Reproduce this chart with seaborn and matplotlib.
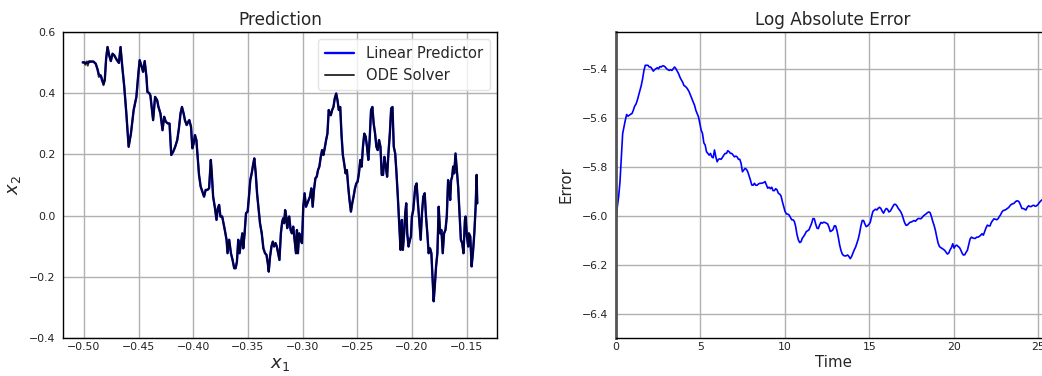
import numpy as np
import pandas as pd
import matplotlib
matplotlib.use("Agg")
import matplotlib.pyplot as plt
import seaborn as sns

# ---------------- data ----------------
ode_x1 = [-0.5012, -0.5000, -0.4988, -0.4975, -0.4966, -0.4954, -0.4939, -0.4914, -0.4893, -0.4877, -0.4865, -0.4847, -0.4834, -0.4822, -0.4810,
          -0.4798, -0.4785, -0.4770, -0.4755, -0.4739, -0.4724, -0.4699, -0.4681, -0.4666, -0.4650, -0.4632, -0.4613, -0.4592, -0.4571, -0.4546,
          -0.4521, -0.4503, -0.4491, -0.4472, -0.4460, -0.4445, -0.4429, -0.4420, -0.4405, -0.4393, -0.4380, -0.4368, -0.4356, -0.4350, -0.4331,
          -0.4319, -0.4301, -0.4282, -0.4267, -0.4252, -0.4233, -0.4218, -0.4202, -0.4184, -0.4166, -0.4147, -0.4132, -0.4117, -0.4104, -0.4089,
          -0.4077, -0.4061, -0.4046, -0.4037, -0.4021, -0.4009, -0.3997, -0.3985, -0.3972, -0.3963, -0.3948, -0.3933, -0.3917, -0.3902, -0.3887,
          -0.3871, -0.3856, -0.3840, -0.3831, -0.3819, -0.3804, -0.3788, -0.3776, -0.3764, -0.3752, -0.3736, -0.3724, -0.3712, -0.3696, -0.3687,
          -0.3672, -0.3656, -0.3641, -0.3626, -0.3613, -0.3601, -0.3589, -0.3577, -0.3564, -0.3552, -0.3543, -0.3531, -0.3518, -0.3503, -0.3491,
          -0.3479, -0.3466, -0.3451, -0.3442, -0.3429, -0.3417, -0.3405, -0.3390, -0.3374, -0.3359, -0.3344, -0.3331, -0.3319, -0.3310, -0.3298,
          -0.3285, -0.3273, -0.3261, -0.3248, -0.3236, -0.3224, -0.3212, -0.3199, -0.3187, -0.3178, -0.3169, -0.3160, -0.3150, -0.3141, -0.3132,
          -0.3123, -0.3110, -0.3098, -0.3086, -0.3074, -0.3061, -0.3052, -0.3043, -0.3031, -0.3018, -0.3006, -0.2994, -0.2982, -0.2969, -0.2957,
          -0.2945, -0.2933, -0.2920, -0.2908, -0.2896, -0.2883, -0.2871, -0.2859, -0.2847, -0.2834, -0.2822, -0.2810, -0.2798, -0.2785, -0.2773,
          -0.2761, -0.2752, -0.2742, -0.2730, -0.2718, -0.2706, -0.2693, -0.2681, -0.2669, -0.2656, -0.2644, -0.2632, -0.2620, -0.2607, -0.2595,
          -0.2583, -0.2571, -0.2558, -0.2546, -0.2534, -0.2521, -0.2509, -0.2497, -0.2485, -0.2472, -0.2460, -0.2448, -0.2436, -0.2423, -0.2411,
          -0.2399, -0.2387, -0.2374, -0.2362, -0.2350, -0.2337, -0.2325, -0.2313, -0.2301, -0.2288, -0.2276, -0.2264, -0.2252, -0.2239, -0.2227,
          -0.2215, -0.2202, -0.2190, -0.2178, -0.2166, -0.2153, -0.2141, -0.2129, -0.2117, -0.2104, -0.2098, -0.2092, -0.2083, -0.2071, -0.2061,
          -0.2052, -0.2043, -0.2031, -0.2018, -0.2009, -0.2000, -0.1988, -0.1969, -0.1957, -0.1945, -0.1933, -0.1920, -0.1908, -0.1896, -0.1883,
          -0.1871, -0.1859, -0.1847, -0.1834, -0.1822, -0.1810, -0.1801, -0.1791, -0.1779, -0.1767, -0.1755, -0.1742, -0.1730, -0.1718, -0.1706,
          -0.1693, -0.1681, -0.1669, -0.1660, -0.1650, -0.1641, -0.1632, -0.1623, -0.1613, -0.1601, -0.1589, -0.1577, -0.1564, -0.1552, -0.1540,
          -0.1528, -0.1515, -0.1509, -0.1497, -0.1485, -0.1479, -0.1466, -0.1454, -0.1442, -0.1429, -0.1417, -0.1408, -0.1402]

ode_x2 = [0.502, 0.502, 0.493, 0.504, 0.490, 0.505, 0.504, 0.504, 0.497, 0.480, 0.453, 0.459, 0.447, 0.426, 0.442,
          0.513, 0.551, 0.524, 0.505, 0.529, 0.524, 0.508, 0.499, 0.551, 0.486, 0.421, 0.334, 0.225, 0.268, 0.345,
          0.388, 0.464, 0.508, 0.486, 0.470, 0.505, 0.453, 0.404, 0.401, 0.393, 0.350, 0.312, 0.361, 0.388, 0.377,
          0.355, 0.334, 0.279, 0.323, 0.307, 0.301, 0.301, 0.198, 0.209, 0.225, 0.247, 0.285, 0.334, 0.355, 0.334,
          0.312, 0.296, 0.307, 0.312, 0.290, 0.220, 0.236, 0.263, 0.247, 0.203, 0.133, 0.095, 0.078, 0.062, 0.084,
          0.084, 0.089, 0.182, 0.138, 0.062, 0.029, -0.014, 0.024, 0.035, -0.003, -0.003, -0.025, -0.047, -0.079, -0.123,
          -0.079, -0.123, -0.145, -0.172, -0.172, -0.150, -0.079, -0.123, -0.090, -0.058, -0.107, -0.058, 0.008, 0.013, 0.062,
          0.116, 0.138, 0.171, 0.187, 0.138, 0.073, 0.029, -0.025, -0.058, -0.107, -0.123, -0.128, -0.155, -0.183, -0.134,
          -0.101, -0.085, -0.101, -0.090, -0.101, -0.123, -0.145, -0.058, -0.020, -0.009, -0.025, 0.018, -0.003, -0.041, -0.014,
          -0.003, -0.047, -0.058, -0.036, -0.079, -0.123, -0.047, -0.123, -0.058, -0.079, -0.090, 0.029, 0.073, 0.029, 0.040,
          0.051, 0.062, 0.089, 0.029, 0.084, 0.122, 0.127, 0.149, 0.160, 0.192, 0.214, 0.198, 0.220, 0.247, 0.268,
          0.345, 0.334, 0.328, 0.345, 0.355, 0.383, 0.399, 0.377, 0.345, 0.355, 0.263, 0.198, 0.171, 0.138, 0.149,
          0.095, 0.051, 0.013, 0.040, 0.062, 0.089, 0.105, 0.111, 0.138, 0.182, 0.160, 0.225, 0.268, 0.258, 0.225,
          0.182, 0.247, 0.345, 0.355, 0.301, 0.268, 0.225, 0.214, 0.247, 0.225, 0.133, 0.133, 0.192, 0.160, 0.127,
          0.203, 0.268, 0.350, 0.355, 0.225, 0.203, 0.138, 0.062, -0.025, -0.112, -0.058, -0.014, -0.112, -0.058, 0.008,
          0.040, -0.058, -0.101, -0.079, -0.068, -0.003, 0.018, 0.095, 0.105, 0.040, -0.014, -0.079, 0.008, 0.062, 0.073,
          -0.003, -0.058, -0.123, -0.107, -0.123, -0.215, -0.280, -0.232, -0.166, -0.123, 0.029, -0.058, -0.047, -0.123, -0.058,
          -0.047, -0.003, 0.116, 0.095, 0.051, 0.116, 0.127, 0.160, 0.138, 0.203, 0.149, 0.095, 0.008, -0.079, -0.090,
          -0.123, -0.014, -0.003, -0.068, -0.101, -0.058, -0.068, -0.166, -0.123, -0.058, 0.029, 0.133, 0.040]

# linear predictor: differs visibly from the ODE solver only at the very start
pred_x2_head = [0.500, 0.500, 0.499, 0.500, 0.499, 0.502, 0.503, 0.503, 0.496, 0.478, 0.462, 0.456, 0.440, 0.430, 0.445]
pred_x1 = ode_x1
pred_x2 = pred_x2_head + ode_x2[len(pred_x2_head):]

log_error = [-6.017, -5.963, -5.922, -5.861, -5.760, -5.665, -5.637, -5.610, -5.587, -5.594, -5.590, -5.586, -5.583, -5.570, -5.553,
             -5.545, -5.529, -5.509, -5.488, -5.468, -5.441, -5.407, -5.386, -5.386, -5.386, -5.393, -5.393, -5.400, -5.410, -5.404,
             -5.400, -5.396, -5.400, -5.391, -5.393, -5.388, -5.389, -5.393, -5.400, -5.404, -5.407, -5.404, -5.407, -5.400, -5.393,
             -5.400, -5.410, -5.420, -5.434, -5.445, -5.454, -5.468, -5.472, -5.477, -5.485, -5.495, -5.509, -5.522, -5.536, -5.549,
             -5.570, -5.583, -5.597, -5.624, -5.651, -5.665, -5.703, -5.712, -5.739, -5.746, -5.753, -5.746, -5.760, -5.764, -5.732,
             -5.760, -5.780, -5.770, -5.768, -5.770, -5.762, -5.753, -5.746, -5.746, -5.735, -5.739, -5.746, -5.746, -5.753, -5.760,
             -5.757, -5.760, -5.770, -5.770, -5.787, -5.821, -5.814, -5.807, -5.811, -5.821, -5.838, -5.855, -5.875, -5.876, -5.868,
             -5.876, -5.876, -5.871, -5.868, -5.868, -5.867, -5.865, -5.861, -5.875, -5.888, -5.884, -5.890, -5.884, -5.898, -5.898,
             -5.890, -5.895, -5.909, -5.912, -5.920, -5.943, -5.963, -5.983, -5.993, -5.994, -5.997, -6.007, -6.017, -6.017, -6.024,
             -6.045, -6.078, -6.099, -6.110, -6.107, -6.092, -6.085, -6.076, -6.065, -6.062, -6.058, -6.045, -6.031, -6.012, -6.013,
             -6.034, -6.051, -6.053, -6.038, -6.028, -6.031, -6.027, -6.028, -6.031, -6.034, -6.047, -6.065, -6.062, -6.058, -6.042,
             -6.042, -6.061, -6.088, -6.119, -6.142, -6.157, -6.163, -6.165, -6.164, -6.161, -6.167, -6.176, -6.167, -6.153, -6.140,
             -6.129, -6.112, -6.096, -6.072, -6.042, -6.020, -6.020, -6.034, -6.045, -6.042, -6.036, -6.028, -6.004, -5.983, -5.978,
             -5.974, -5.977, -5.970, -5.966, -5.971, -5.982, -5.990, -5.979, -5.971, -5.974, -5.985, -5.982, -5.973, -5.963, -5.954,
             -5.954, -5.960, -5.970, -5.977, -5.985, -5.997, -6.015, -6.031, -6.040, -6.038, -6.032, -6.027, -6.026, -6.023, -6.020,
             -6.023, -6.017, -6.012, -6.012, -6.013, -6.008, -6.001, -5.997, -5.993, -5.988, -5.985, -5.988, -6.004, -6.024, -6.040,
             -6.061, -6.088, -6.112, -6.126, -6.131, -6.134, -6.138, -6.142, -6.150, -6.157, -6.153, -6.140, -6.131, -6.115, -6.133,
             -6.123, -6.121, -6.126, -6.130, -6.140, -6.153, -6.161, -6.160, -6.150, -6.142, -6.119, -6.096, -6.088, -6.091, -6.093,
             -6.093, -6.088, -6.088, -6.085, -6.080, -6.074, -6.080, -6.065, -6.050, -6.039, -6.042, -6.042, -6.028, -6.020, -6.013,
             -6.015, -6.017, -6.013, -6.004, -5.996, -5.985, -5.979, -5.978, -5.975, -5.971, -5.967, -5.960, -5.954, -5.952, -5.950,
             -5.944, -5.940, -5.940, -5.945, -5.958, -5.971, -5.971, -5.974, -5.977, -5.966, -5.960, -5.963, -5.963, -5.959, -5.958,
             -5.962, -5.960, -5.955, -5.947, -5.941, -5.936, -5.933]
# evenly spaced sampling times from t = 0 to t = 25.3
time = np.linspace(0.0, 25.3, len(log_error))

x1_ticks = [-0.50, -0.45, -0.40, -0.35, -0.30, -0.25, -0.20, -0.15]
x2_ticks = [-0.4, -0.2, 0.0, 0.2, 0.4, 0.6]
t_ticks = [0, 5, 10, 15, 20, 25]
err_ticks = [-6.4, -6.2, -6.0, -5.8, -5.6, -5.4]

# ---------------- style ----------------
sns.set_theme(style="whitegrid")
plt.rcParams.update({
    "font.family": ["DejaVu Sans"],
    "axes.edgecolor": "black",
    "axes.linewidth": 1.0,
    "grid.color": "#b0b0b0",
    "grid.linewidth": 1.0,
    "xtick.color": "#222222",
    "ytick.color": "#222222",
    "xtick.major.size": 0,
    "ytick.major.size": 0,
})

fig = plt.figure(figsize=(10.42, 3.76), dpi=100)
ax1 = fig.add_axes([63 / 1042, 38 / 376, 434 / 1042, 306 / 376])
ax2 = fig.add_axes([616 / 1042, 38 / 376, 434 / 1042, 306 / 376])

df_pred = pd.DataFrame({"x1": pred_x1, "x2": pred_x2})
df_ode = pd.DataFrame({"x1": ode_x1, "x2": ode_x2})
sns.lineplot(data=df_pred, x="x1", y="x2", sort=False, estimator=None, ax=ax1,
             color="blue", linewidth=1.7, label="Linear Predictor")
sns.lineplot(data=df_ode, x="x1", y="x2", sort=False, estimator=None, ax=ax1,
             color="black", alpha=0.8, linewidth=1.4, label="ODE Solver")

ax1.set_ylim(-0.4, 0.6)
ax1.set_xticks(x1_ticks)
ax1.set_yticks(x2_ticks)
ax1.set_xticklabels([f"{v:.2f}".replace("-", "\u2212") for v in x1_ticks])
ax1.set_yticklabels([f"{v:.1f}".replace("-", "\u2212") for v in x2_ticks])
ax1.set_title("Prediction", fontsize=12.2, pad=5)
ax1.set_xlabel(r"$x_1$", fontsize=13, labelpad=2)
ax1.set_ylabel(r"$x_2$", fontsize=13, labelpad=4)
ax1.tick_params(axis="x", labelsize=7.8, pad=3)
ax1.tick_params(axis="y", labelsize=7.8, pad=5.5)
leg = ax1.legend(loc="upper right", fontsize=10.6, frameon=True, framealpha=0.8,
                 fancybox=True, borderpad=0.45, handlelength=2.0)
leg.get_frame().set_edgecolor("#dddddd")

sns.lineplot(x=time, y=log_error, ax=ax2, color="blue", linewidth=1.2)
ax2.set_xlim(0, 25.7)
ax2.set_ylim(-6.5, -5.25)
ax2.set_xticks(t_ticks)
ax2.set_yticks(err_ticks)
ax2.set_yticklabels([f"{v:.1f}".replace("-", "\u2212") for v in err_ticks])
ax2.set_title("Log Absolute Error", fontsize=12.2, pad=5)
ax2.set_xlabel("Time", fontsize=10.8, labelpad=2)
ax2.set_ylabel("Error", fontsize=10.8, labelpad=6)
ax2.tick_params(axis="x", labelsize=7.8, pad=3)
ax2.tick_params(axis="y", labelsize=7.8, pad=5.5)

for ax in (ax1, ax2):
    for s in ax.spines.values():
        s.set_color("black")
        s.set_linewidth(1.0)
ax2.spines["left"].set_color("#555555")
ax2.spines["left"].set_linewidth(2.0)

fig.savefig("out.png", dpi=100)
